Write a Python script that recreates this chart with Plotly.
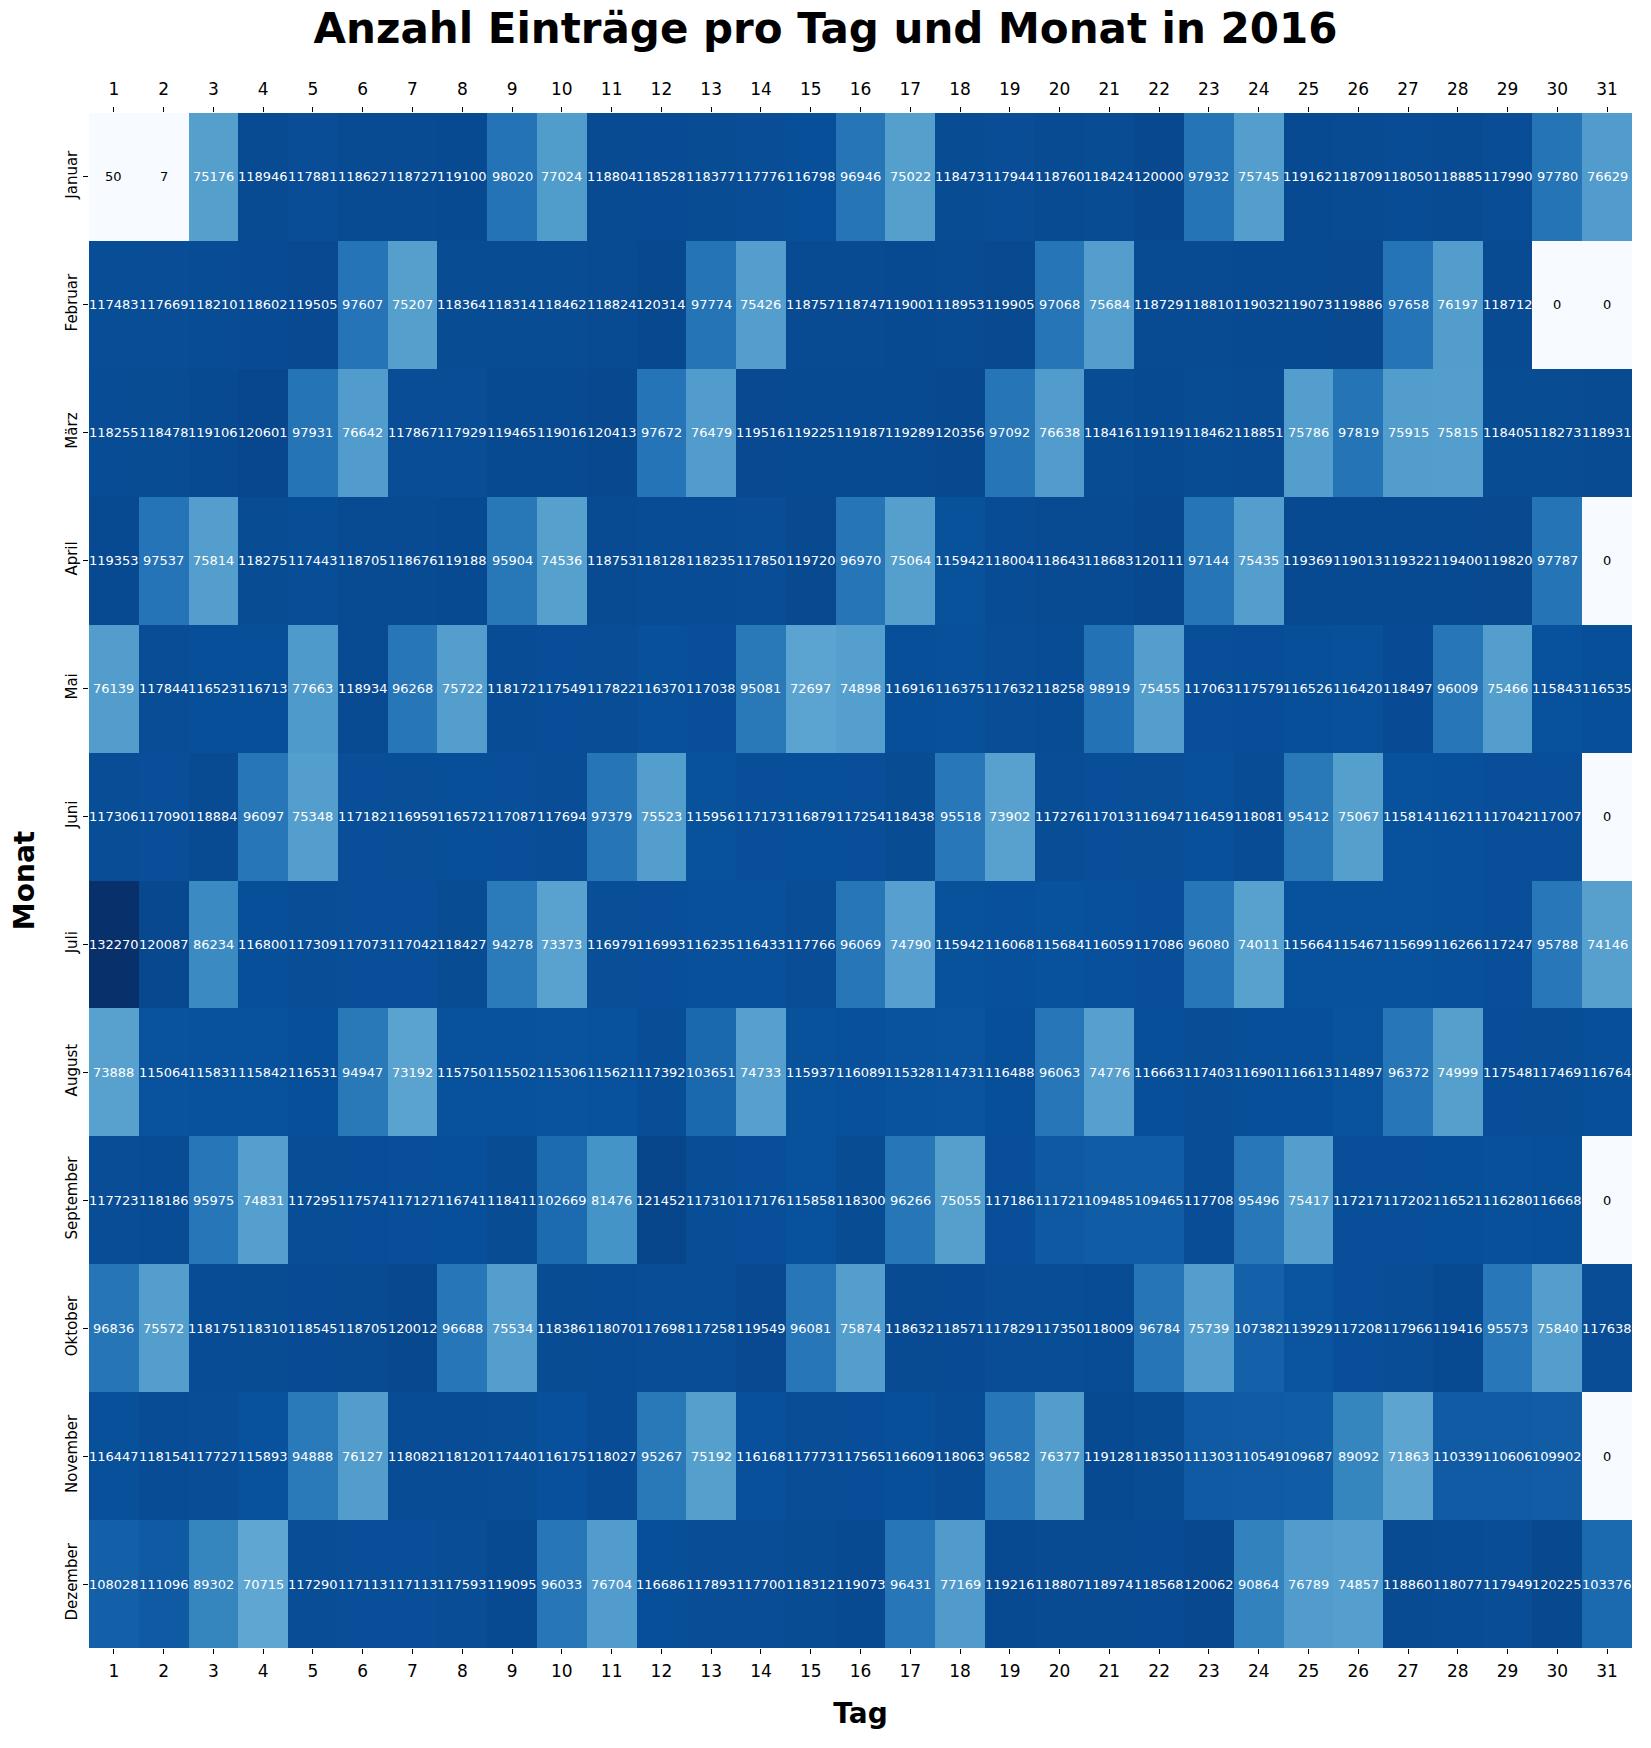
import plotly.graph_objects as go

months = ["Januar", "Februar", "März", "April", "Mai", "Juni", "Juli",
          "August", "September", "Oktober", "November", "Dezember"]
days = list(range(1, 32))

jan = [50, 7, 75176, 118946, 117881, 118627, 118727, 119100, 98020, 77024, 118804, 118528, 118377, 117776, 116798, 96946, 75022, 118473, 117944, 118760, 118424, 120000, 97932, 75745, 119162, 118709, 118050, 118885, 117990, 97780, 76629]
feb = [117483, 117669, 118210, 118602, 119505, 97607, 75207, 118364, 118314, 118462, 118824, 120314, 97774, 75426, 118757, 118747, 119001, 118953, 119905, 97068, 75684, 118729, 118810, 119032, 119073, 119886, 97658, 76197, 118712, 0, 0]
mar = [118255, 118478, 119106, 120601, 97931, 76642, 117867, 117929, 119465, 119016, 120413, 97672, 76479, 119516, 119225, 119187, 119289, 120356, 97092, 76638, 118416, 119119, 118462, 118851, 75786, 97819, 75915, 75815, 118405, 118273, 118931]
apr = [119353, 97537, 75814, 118275, 117443, 118705, 118676, 119188, 95904, 74536, 118753, 118128, 118235, 117850, 119720, 96970, 75064, 115942, 118004, 118643, 118683, 120111, 97144, 75435, 119369, 119013, 119322, 119400, 119820, 97787, 0]
mai = [76139, 117844, 116523, 116713, 77663, 118934, 96268, 75722, 118172, 117549, 117822, 116370, 117038, 95081, 72697, 74898, 116916, 116375, 117632, 118258, 98919, 75455, 117063, 117579, 116526, 116420, 118497, 96009, 75466, 115843, 116535]
jun = [117306, 117090, 118884, 96097, 75348, 117182, 116959, 116572, 117087, 117694, 97379, 75523, 115956, 117173, 116879, 117254, 118438, 95518, 73902, 117276, 117013, 116947, 116459, 118081, 95412, 75067, 115814, 116211, 117042, 117007, 0]
jul = [132270, 120087, 86234, 116800, 117309, 117073, 117042, 118427, 94278, 73373, 116979, 116993, 116235, 116433, 117766, 96069, 74790, 115942, 116068, 115684, 116059, 117086, 96080, 74011, 115664, 115467, 115699, 116266, 117247, 95788, 74146]
aug = [73888, 115064, 115831, 115842, 116531, 94947, 73192, 115750, 115502, 115306, 115621, 117392, 103651, 74733, 115937, 116089, 115328, 114731, 116488, 96063, 74776, 116663, 117403, 116901, 116613, 114897, 96372, 74999, 117548, 117469, 116764]
sep = [117723, 118186, 95975, 74831, 117295, 117574, 117127, 116741, 118411, 102669, 81476, 121452, 117310, 117176, 115858, 118300, 96266, 75055, 117186, 111721, 109485, 109465, 117708, 95496, 75417, 117217, 117202, 116521, 116280, 116668, 0]
okt = [96836, 75572, 118175, 118310, 118545, 118705, 120012, 96688, 75534, 118386, 118070, 117698, 117258, 119549, 96081, 75874, 118632, 118571, 117829, 117350, 118009, 96784, 75739, 107382, 113929, 117208, 117966, 119416, 95573, 75840, 117638]
nov = [116447, 118154, 117727, 115893, 94888, 76127, 118082, 118120, 117440, 116175, 118027, 95267, 75192, 116168, 117773, 117565, 116609, 118063, 96582, 76377, 119128, 118350, 111303, 110549, 109687, 89092, 71863, 110339, 110606, 109902, 0]
dez = [108028, 111096, 89302, 70715, 117290, 117113, 117113, 117593, 119095, 96033, 76704, 116686, 117893, 117700, 118312, 119073, 96431, 77169, 119216, 118807, 118974, 118568, 120062, 90864, 76789, 74857, 118860, 118077, 117949, 120225, 103376]

z = [jan, feb, mar, apr, mai, jun, jul, aug, sep, okt, nov, dez]

blues = ["#f7fbff", "#deebf7", "#c6dbef", "#9ecae1", "#6baed6",
         "#4292c6", "#2171b5", "#08519c", "#08306b"]
colorscale = [[i / (len(blues) - 1), c] for i, c in enumerate(blues)]

zmax = max(max(r) for r in z)
zmin = min(min(r) for r in z)

FONT = "DejaVu Sans"

fig = go.Figure()
fig.add_trace(go.Heatmap(
    z=z, x=days, y=list(range(len(months))),
    colorscale=colorscale, zmin=zmin, zmax=zmax,
    showscale=False, xgap=0, ygap=0,
))
# invisible trace to activate the top x axis
fig.add_trace(go.Scatter(x=days, y=[0] * len(days), xaxis="x2", yaxis="y",
                         mode="markers", marker=dict(opacity=0),
                         hoverinfo="skip", showlegend=False))

annotations = []
for i, row in enumerate(z):
    for j, v in enumerate(row):
        frac = (v - zmin) / (zmax - zmin)
        annotations.append(dict(
            x=days[j], y=i, xref="x", yref="y", text=str(v), showarrow=False,
            font=dict(family=FONT, size=13, color="white" if frac > 0.35 else "black"),
        ))

fig.update_layout(
    width=1651, height=1748,
    margin=dict(l=89, r=19, t=113, b=100),
    paper_bgcolor="white", plot_bgcolor="white",
    title=dict(text="<b>Anzahl Einträge pro Tag und Monat in 2016</b>",
               x=0.5, xanchor="center", y=0.984, yanchor="middle",
               font=dict(family=FONT, size=42, color="black")),
    font=dict(family=FONT, color="black"),
    annotations=annotations,
    xaxis=dict(range=[0.5, 31.5], tickvals=days, ticktext=[str(d) for d in days],
               ticks="outside", ticklen=5, tickcolor="black", showgrid=False,
               zeroline=False, showline=False, ticklabelstandoff=3,
               tickfont=dict(family=FONT, size=17),
               title=dict(text="<b>Tag</b>", font=dict(family=FONT, size=28), standoff=22)),
    xaxis2=dict(range=[0.5, 31.5], overlaying="x", side="top", tickvals=days,
                ticktext=[str(d) for d in days], ticks="outside", ticklen=5,
                tickcolor="black", showgrid=False, zeroline=False, showline=False,
                ticklabelstandoff=5,
                tickfont=dict(family=FONT, size=17)),
    yaxis=dict(range=[11.5, -0.5], tickvals=list(range(len(months))), ticktext=months,
               tickangle=-90, ticks="outside", ticklen=5, tickcolor="black",
               showgrid=False, zeroline=False, showline=False,
               tickfont=dict(family=FONT, size=15),
               title=dict(text="<b>Monat</b>", font=dict(family=FONT, size=28), standoff=20)),
)

fig.write_html("out.html", config={"displayModeBar": False},
               post_script="document.body.style.margin='0';")
